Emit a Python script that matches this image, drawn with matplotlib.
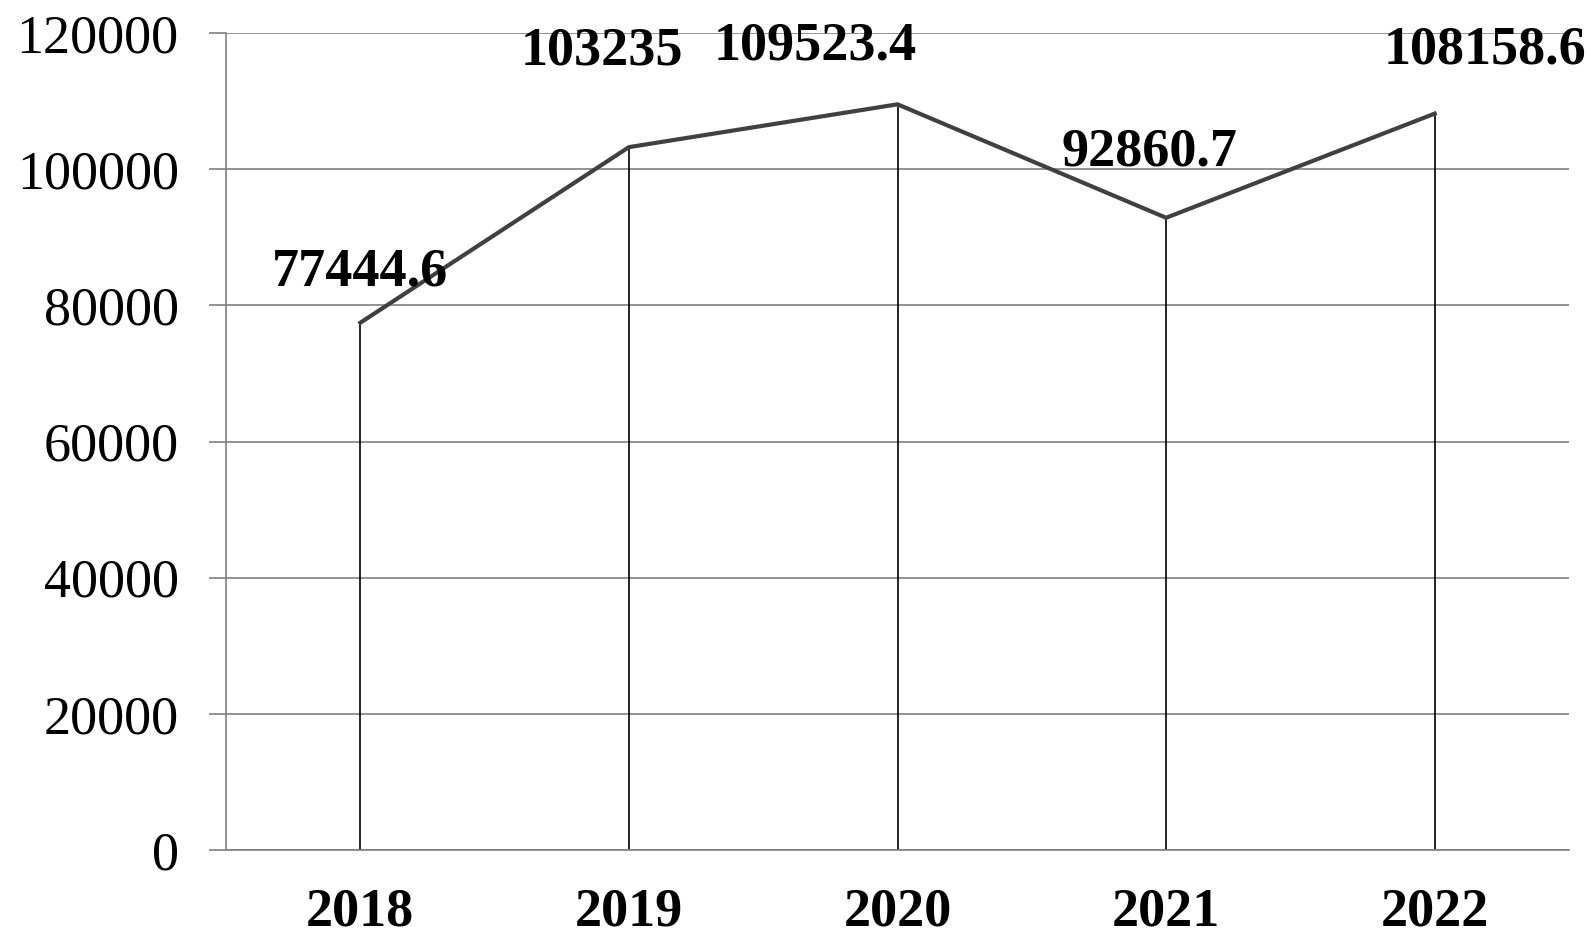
import matplotlib
matplotlib.use("Agg")
import matplotlib.pyplot as plt

years = ["2018", "2019", "2020", "2021", "2022"]
values = [77444.6, 103235, 109523.4, 92860.7, 108158.6]
labels = ["77444.6", "103235", "109523.4", "92860.7", "108158.6"]
yticks = [0, 20000, 40000, 60000, 80000, 100000, 120000]
label_offsets = [(0, 50), (-27, 96), (-82, 58), (-17, 65), (50, 63)]

plt.rcParams['font.family'] = ['Liberation Serif', 'DejaVu Serif']

W, H = 1596, 939
fig = plt.figure(figsize=(W / 100, H / 100), dpi=100)
ax = fig.add_axes([226 / W, 1 - 850 / H, (1569 - 226) / W, (850 - 33) / H])

x = list(range(len(years)))
ax.set_xlim(-0.5, len(years) - 0.5)
ax.set_ylim(0, 120000)

grid_c = "#808080"
ax.set_yticks(yticks)
ax.set_yticklabels([str(t) for t in yticks], fontsize=39)
ax.yaxis.grid(True, color=grid_c, linewidth=1.2, zorder=0)
ax.tick_params(axis='y', length=12, width=1.2, color=grid_c, pad=22)
ax.set_xticks(x)
ax.set_xticklabels(years, fontsize=39, fontweight='bold')
ax.tick_params(axis='x', length=0, pad=27)

for s in ['top', 'right']:
    ax.spines[s].set_visible(False)
ax.spines['left'].set_color(grid_c)
ax.spines['left'].set_linewidth(1.2)
ax.spines['bottom'].set_color(grid_c)
ax.spines['bottom'].set_linewidth(1.2)

ax.vlines(x, 0, values, colors='black', linewidth=1.2, zorder=2)
ax.plot(x, values, color='#404040', linewidth=3.0, zorder=3, solid_joinstyle='miter')

for xi, v, lab, (dx, dy) in zip(x, values, labels, label_offsets):
    ax.annotate(lab, (xi, v), xytext=(dx, dy), textcoords='offset pixels',
                ha='center', va='center', fontsize=39, fontweight='bold', zorder=4)

fig.savefig("out.png", dpi=100, facecolor='white')
